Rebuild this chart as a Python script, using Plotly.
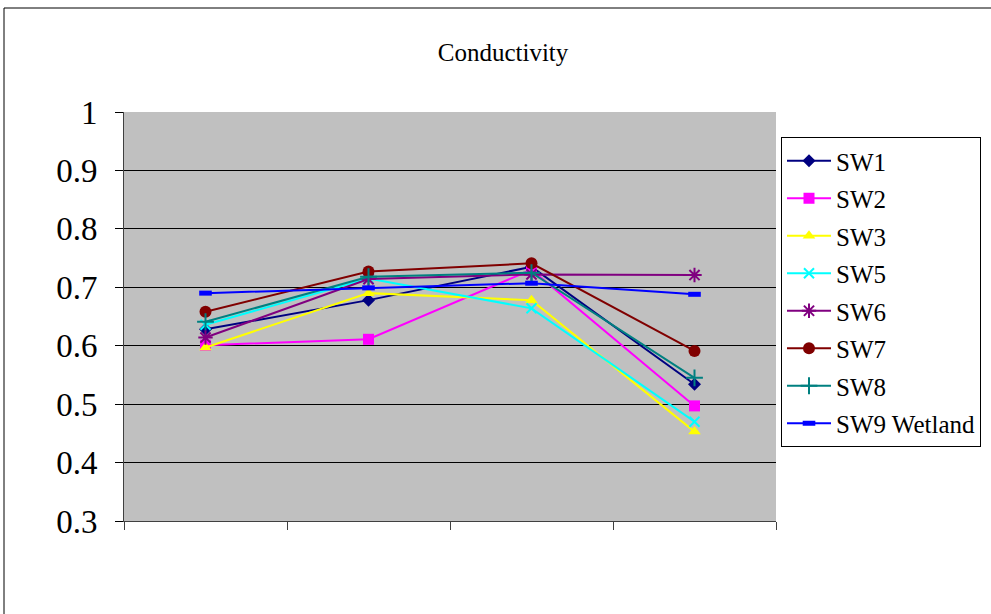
import plotly.graph_objects as go

categories = [1, 2, 3, 4]
series_names = ["SW1", "SW2", "SW3", "SW5", "SW6", "SW7", "SW8", "SW9 Wetland"]
sw1 = [0.628, 0.678, 0.735, 0.534]
sw2 = [0.601, 0.611, 0.730, 0.497]
sw3 = [0.597, 0.690, 0.678, 0.453]
sw5 = [0.636, 0.715, 0.664, 0.470]
sw6 = [0.614, 0.714, 0.722, 0.721]
sw7 = [0.658, 0.727, 0.741, 0.591]
sw8 = [0.641, 0.718, 0.725, 0.545]
sw9 = [0.690, 0.699, 0.707, 0.688]
y_ticks = [0.3, 0.4, 0.5, 0.6, 0.7, 0.8, 0.9, 1.0]
y_tick_text = ["0.3", "0.4", "0.5", "0.6", "0.7", "0.8", "0.9", "1"]

values = [sw1, sw2, sw3, sw5, sw6, sw7, sw8, sw9]
colors = ["#000080", "#FF00FF", "#FFFF00", "#00FFFF", "#800080", "#800000", "#008080", "#0000FF"]
symbols = ["diamond", "square", "triangle-up", "x-thin", "asterisk", "circle", "cross-thin", "line-ew"]
sizes = [10, 11, 11, 10, 12, 12, 12, 8]

fig = go.Figure()
for i, (name, vals) in enumerate(zip(series_names, values)):
    thin = symbols[i] in ("x-thin", "asterisk", "cross-thin", "line-ew")
    marker = dict(symbol=symbols[i], size=sizes[i], color=colors[i],
                  line=dict(color=colors[i], width=2 if thin else 0))
    if symbols[i] == "line-ew":
        marker = dict(symbol="line-ew", size=9, color=colors[i], line=dict(color=colors[i], width=5))
    fig.add_trace(go.Scatter(
        x=categories, y=vals, name=name, mode="lines+markers",
        line=dict(color=colors[i], width=2), marker=marker,
        legendgroup=name,
    ))

L, R, T, B = 124, 776, 112, 521
W, H = 991, 614
pw, ph = R - L, B - T

def px_to_paper_x(px):
    return (px - L) / pw

def px_to_paper_y(py):
    return (B - py) / ph

fig.update_layout(
    width=W, height=H,
    margin=dict(l=L, r=W - R, t=T, b=H - B, pad=0, autoexpand=False),
    paper_bgcolor="white",
    plot_bgcolor="#C0C0C0",
    font=dict(family="Liberation Serif, Times New Roman, serif", color="black"),
    title=dict(text="Conductivity", x=px_to_paper_x(503), xref="paper", xanchor="center",
               y=1 - 52 / H, yanchor="middle", font=dict(size=25)),
    showlegend=True,
    legend=dict(x=px_to_paper_x(781), y=px_to_paper_y(137), xanchor="left", yanchor="top",
                bgcolor="white", bordercolor="black", borderwidth=1,
                font=dict(size=25), tracegroupgap=2, itemwidth=44),
    xaxis=dict(range=[0.5, 4.5], tickvals=[0.5, 1.5, 2.5, 3.5, 4.5], showticklabels=False,
               ticks="outside", ticklen=8, tickcolor="#404040", showgrid=False, zeroline=False,
               showline=True, linecolor="#404040", linewidth=1),
    yaxis=dict(range=[0.3, 1.0], tickvals=y_ticks, ticktext=y_tick_text, ticks="outside",
               ticklen=8, tickcolor="black", showgrid=True, gridcolor="black", gridwidth=1,
               zeroline=False, showline=True, linecolor="#404040", linewidth=1,
               tickfont=dict(size=33), ticklabelstandoff=11),
    shapes=[
        dict(type="rect", xref="paper", yref="paper",
             x0=px_to_paper_x(4), x1=px_to_paper_x(1100),
             y0=px_to_paper_y(700), y1=px_to_paper_y(8),
             line=dict(color="black", width=1), fillcolor="rgba(0,0,0,0)", layer="below"),
    ],
)

fig.write_html("out.html")
